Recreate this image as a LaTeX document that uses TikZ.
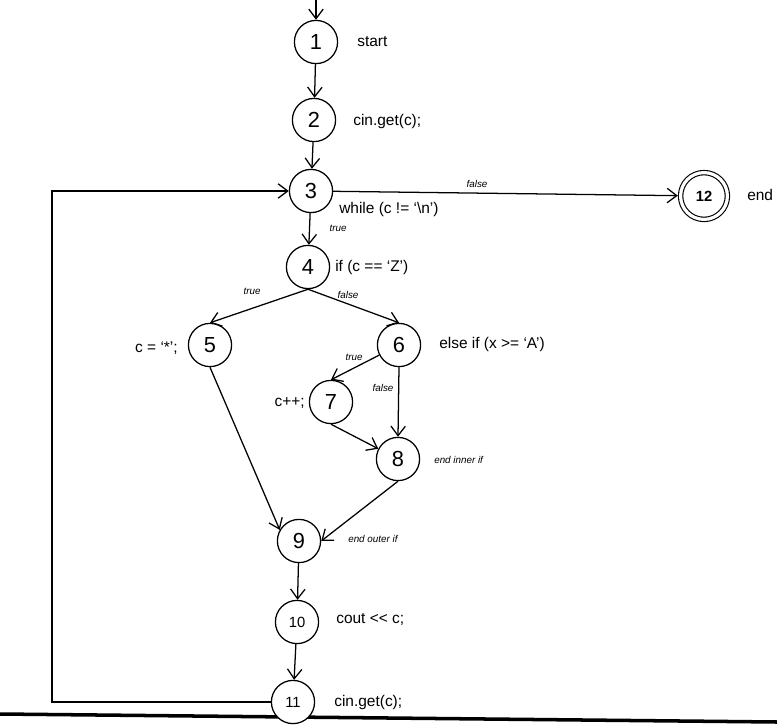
\documentclass[tikz,border=0pt]{standalone}
\usepackage{fontspec}
\setmainfont{Liberation Sans}
\usetikzlibrary{arrows.meta}

\begin{document}
\begin{tikzpicture}[x=0.025cm, y=-0.025cm,
    vertex/.style={circle, draw, line width=0.9pt, minimum size=1.08cm, inner sep=0pt, font=\fontsize{15.5}{17}\selectfont},
    vertexsm/.style={vertex, font=\fontsize{10.5}{12}\selectfont},
    flow/.style={line width=0.9pt, -{Straight Barb[length=2.4mm, width=3.6mm, line width=0.9pt]}},
    stmt/.style={font=\fontsize{11}{13}\selectfont, inner sep=0pt},
    branch/.style={font=\fontsize{7}{8}\selectfont\itshape, inner sep=0pt}]
  \useasboundingbox (0,0) rectangle (777,725);

  % Page edge
  \draw[line width=2.5pt] (0,714) -- (777,722);

  % Vertices
  \foreach \n/\x/\y in {1/316/42, 2/314/120, 3/311/191, 4/308/267, 5/210/345,
                        6/399/345, 7/331/402, 8/398/459, 9/299/541} {
    \node[vertex, fill=white] (n\n) at (\x,\y) {\n};
  }
  \node[vertexsm, fill=white] (n10) at (297,622) {10};
  \node[vertexsm, fill=white] (n11) at (293,702) {11};
  \node[vertexsm, double, double distance=0.08cm, line width=0.8pt, minimum size=1.17cm,
        outer sep=0.07cm, font=\fontsize{10.5}{12}\selectfont\bfseries] (n12) at (704,196) {12};

  % Statements
  \node[stmt, anchor=west] (s1) at (357,42) {start};
  \node[stmt, anchor=west] (s2) at (353,121) {cin.get(c);};
  \node[stmt, anchor=west] (s3) at (339,209) {while (c != `\textbackslash n')};
  \node[stmt, anchor=west] (s4) at (335,267) {if (c == `Z')};
  \node[stmt, anchor=east] (s5) at (178,348) {c = `*';};
  \node[stmt, anchor=west] (s6) at (439,344) {else if (x >= `A')};
  \node[stmt, anchor=east] (s7) at (305,403) {c++;};
  \node[branch, anchor=west] (s8) at (434,460) {end inner if};
  \node[branch, anchor=west] (s9) at (348,539) {end outer if};
  \node[stmt, anchor=west] (s10) at (336,619) {cout <\kern0pt< c;};
  \node[stmt, anchor=west] (s11) at (334,702) {cin.get(c);};
  \node[stmt, anchor=west] (s12) at (747,195) {end};

  % Straight-line flow
  \coordinate (entry) at (316,0);
  \draw[flow] (entry) -- (n1);
  \foreach \a/\b in {1/2, 2/3, 3/4, 9/10, 10/11} {
    \draw[flow] (n\a) -- (n\b);
  }

  % Loop exit
  \draw[flow] (n3) -- (n12);
  \node[branch] (f3) at (477,184) {false};
  \node[branch] (t3) at (338,228) {true};

  % Outer if
  \draw[flow] (n4.south) -- (n5.north);
  \draw[flow] (n4.south) -- (n6.north);
  \node[branch] (t4) at (252,291) {true};
  \node[branch] (f4) at (348,295) {false};

  % Inner if
  \draw[flow] (n6) -- (n7.north);
  \draw[flow] (n6.south) -- (n8.north);
  \draw[flow] (n7.south) -- (n8);
  \node[branch] (t6) at (354,357) {true};
  \node[branch] (f6) at (383,388) {false};

  % Joins
  \draw[flow] (n5.south) -- (n9.150);
  \draw[flow] (n8.south) -- (n9.east);

  % Back edge
  \coordinate (back) at (52,450);
  \draw[flow] (n11.west) -- (n11.west -| back) |- (n3.west);
\end{tikzpicture}
\end{document}
